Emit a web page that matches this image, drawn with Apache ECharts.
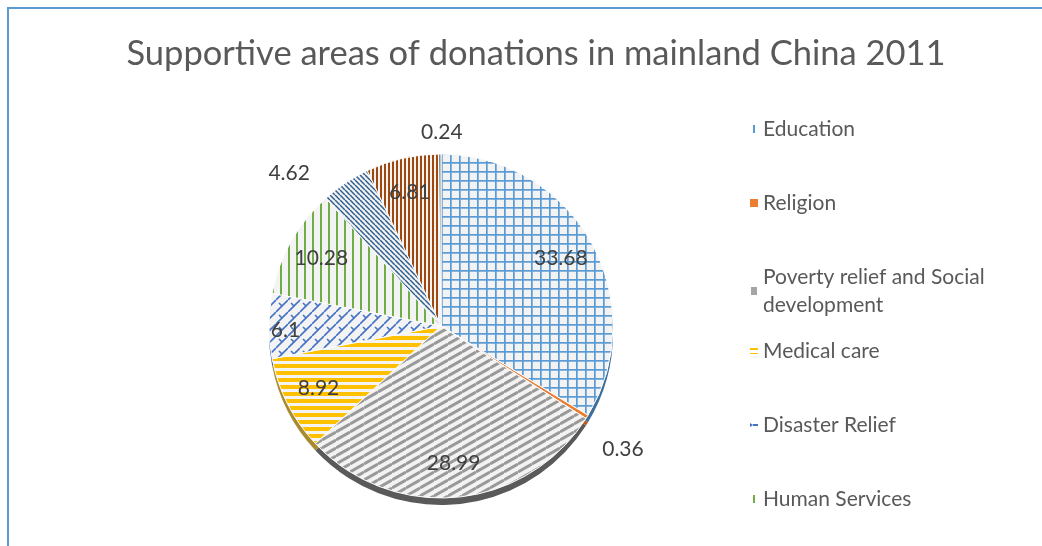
<!DOCTYPE html>
<html>
<head>
<meta charset="utf-8">
<script src="https://cdn.jsdelivr.net/npm/echarts@6/dist/echarts.min.js"></script>
<style>
html,body{margin:0;padding:0;background:#fff;}
#chart{width:1042px;height:546px;}
</style>
</head>
<body>
<div id="chart"></div>
<script>
// ---- data ----
const title = 'Supportive areas of donations in mainland China 2011';
const categories = ['Education', 'Religion', 'Poverty relief and Social development', 'Medical care',
  'Disaster Relief', 'Human Services', 'Environment', 'Culture and Arts', 'Others'];
const values = [33.68, 0.36, 28.99, 8.92, 6.1, 10.28, 4.62, 6.81, 0.24];
const legendTop = ['Education', 'Religion', 'Poverty relief and Social development'];
const legendBottom = ['Medical care', 'Disaster Relief', 'Human Services'];

// ---- styles ----
const BG = '#f3f3f3';
function pat(w, h, draw) {
  const c = document.createElement('canvas');
  c.width = w; c.height = h;
  const g = c.getContext('2d');
  g.fillStyle = BG; g.fillRect(0, 0, w, h);
  draw(g);
  return { image: c, repeat: 'repeat' };
}
function line(g, col, lw, x0, y0, x1, y1) {
  g.strokeStyle = col; g.lineWidth = lw; g.beginPath(); g.moveTo(x0, y0); g.lineTo(x1, y1); g.stroke();
}
const fills = [
  // Education: blue grid
  pat(9, 9, g => { g.fillStyle = '#5b9bd5'; g.fillRect(0, 0, 1.7, 9); g.fillRect(0, 0, 9, 1.7); }),
  // Religion
  '#ed7d31',
  // Poverty: grey shallow diagonal stripes
  pat(14, 8, g => { for (let k = -1; k <= 1; k++) line(g, '#9a9a9a', 3, 0, 8 + k * 8, 14, k * 8); }),
  // Medical: horizontal yellow stripes
  pat(8, 7, g => { g.fillStyle = '#ffc000'; g.fillRect(0, 0, 8, 4); }),
  // Disaster: blue diagonal brick
  pat(12, 12, g => {
    for (let k = -1; k <= 1; k++) line(g, '#4472c4', 1.6, 0, 12 + k * 12, 12, k * 12);
    line(g, '#4472c4', 1.6, 3, 3, 6, 6);
  }),
  // Human services: green vertical lines
  pat(8, 8, g => { g.fillStyle = '#70ad47'; g.fillRect(0, 0, 2, 8); }),
  // Environment: dark blue diagonal stripes
  pat(5, 5, g => { for (let k = -1; k <= 1; k++) line(g, '#2e5f8f', 1.5, k * 5, 0, 5 + k * 5, 5); }),
  // Culture: brown vertical stripes
  pat(4, 4, g => { g.fillStyle = '#9e480e'; g.fillRect(0, 0, 2, 4); }),
  // Others
  '#8c8c8c'
];
const sideColors = ['#3d6e9a', '#b35e24', '#5a5a5a', '#a88a30', '#33558f', '#527f34', '#1c456b', '#733409', '#4a4a4a'];
const legendIcons = {
  'Education': { icon: 'path://M3,0h2v8h-2z', color: '#5b9bd5' },
  'Religion': { icon: 'rect', color: '#ed7d31' },
  'Poverty relief and Social development': { icon: 'path://M5,4h3v4h-3z', color: '#a5a5a5' },
  'Medical care': { icon: 'path://M0,1h8v2h-8zM0,6h8v1h-8z', color: '#ffc000' },
  'Disaster Relief': { icon: 'path://M0,2l3,2l-3,2zM3,3h5v2h-5z', color: '#4472c4' },
  'Human Services': { icon: 'path://M3,0h2v8h-2z', color: '#70ad47' }
};
const labelNudge = { 'Religion': [0, 26], 'Others': [28, -10], 'Environment': [-24, 0], 'Disaster Relief': [-18, 4] };
const outsideSet = ['Religion', 'Others', 'Environment'];

const CX = 441, CY = 326, R = 172;
const FONT = 'Lato';

const visData = categories.map((n, i) => ({ name: n, value: values[i], itemStyle: { color: fills[i] } }));
const sideData = categories.map((n, i) => ({ name: n, value: values[i], itemStyle: { color: sideColors[i] } }));
const labelData = categories.map((n, i) => {
  const o = { name: n, value: values[i] };
  const lab = {};
  if (outsideSet.includes(n)) lab.position = 'outside';
  if (labelNudge[n]) lab.offset = labelNudge[n];
  o.label = lab;
  return o;
});

function makeLegend(names, top) {
  return {
    orient: 'vertical', left: 745, top: top, itemGap: 46, itemWidth: 8, itemHeight: 8,
    selectedMode: false,
    data: names.map(n => ({ name: n, icon: legendIcons[n].icon, itemStyle: { color: legendIcons[n].color } })),
    formatter: n => n.replace(' development', '\ndevelopment'),
    textStyle: { fontFamily: FONT, fontSize: 21, color: '#595959', lineHeight: 28 }
  };
}

const chart = echarts.init(document.getElementById('chart'), null, { renderer: 'canvas' });
chart.setOption({
  backgroundColor: '#ffffff',
  animation: false,
  title: {
    text: title, left: 531, top: 31, textAlign: 'center',
    textStyle: { fontFamily: FONT, fontSize: 34.5, fontWeight: 'normal', color: '#595959' }
  },
  legend: [makeLegend(legendTop, 110), makeLegend(legendBottom, 332)],
  graphic: [{
    type: 'polyline', silent: true, z: 100,
    shape: { points: [[8, 546], [8, 8], [1042, 8]] },
    style: { stroke: '#5b9bd5', lineWidth: 2, fill: null }
  }],
  series: [
    {
      type: 'pie', name: 'side', silent: true, z: 1,
      center: [CX, CY + 7], radius: [0, R], startAngle: 90, clockwise: true,
      label: { show: false }, labelLine: { show: false },
      data: sideData
    },
    {
      type: 'pie', name: 'donations', silent: true, z: 2,
      center: [CX, CY], radius: [0, R], startAngle: 90, clockwise: true,
      itemStyle: { borderColor: '#ffffff', borderWidth: 1 },
      label: { show: false }, labelLine: { show: false },
      data: visData
    },
    {
      type: 'pie', name: 'labels', silent: true, z: 3,
      center: [CX, CY], radius: [97, R], startAngle: 90, clockwise: true,
      itemStyle: { color: 'rgba(0,0,0,0)' },
      label: {
        show: true, position: 'inside', formatter: p => String(p.value),
        fontFamily: FONT, fontSize: 21, color: '#404040'
      },
      labelLine: { show: false, length: 12, length2: 0 },
      data: labelData
    }
  ]
});
</script>
</body>
</html>
